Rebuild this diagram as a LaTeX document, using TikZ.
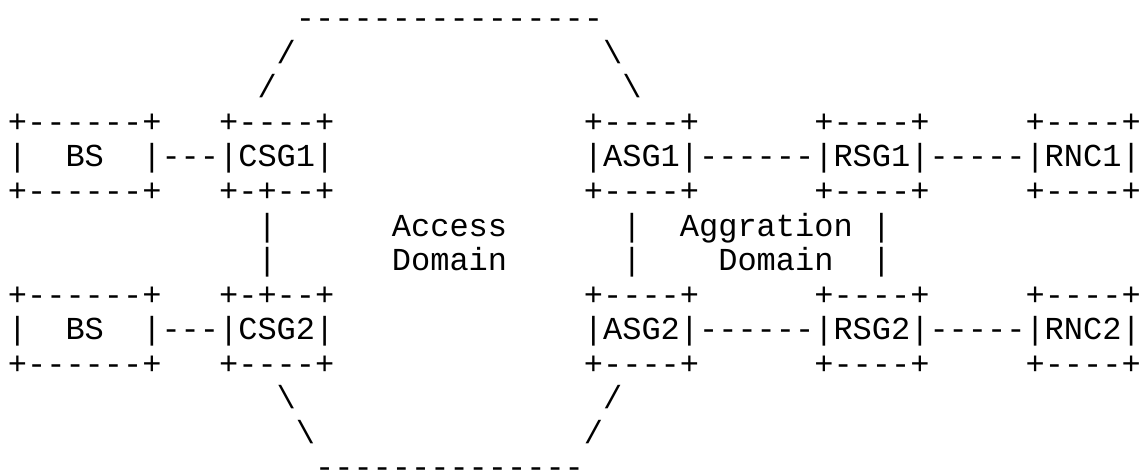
\documentclass[tikz,border=0pt]{standalone}
\usepackage{fontspec}
\setmonofont{Liberation Mono}
\tikzset{asc/.style={anchor=base west, inner sep=0pt, outer sep=0pt,
  font=\ttfamily\fontsize{32}{34.55}\selectfont, text=black}}
\newcommand\ascseg[4]{\node[asc] (#1) at ({7.9+19.2*#2},{28.8+34.55*#3}) {#4};}
\begin{document}
\begin{tikzpicture}[x=1pt,y=-1pt]
\useasboundingbox (0,0) rectangle (1139,470);
\clip (0,0) rectangle (1139,470);
\fill[white] (0,0) rectangle (1139,470);
% row 0
\ascseg{top}{15}{0}{----------------}
% rows 1-2
\ascseg{tl1}{14}{1}{/}
\ascseg{tr1}{31}{1}{\textbackslash}
\ascseg{tl2}{13}{2}{/}
\ascseg{tr2}{32}{2}{\textbackslash}
% row 3
\ascseg{r3a}{0}{3}{+------+~~~+----+}
\ascseg{r3b}{30}{3}{+----+~~~~~~+----+~~~~~+----+}
% row 4
\ascseg{r4a}{0}{4}{|~~BS~~|---|CSG1|}
\ascseg{r4b}{30}{4}{|ASG1|------|RSG1|-----|RNC1|}
% row 5
\ascseg{r5a}{0}{5}{+------+~~~+-+--+}
\ascseg{r5b}{30}{5}{+----+~~~~~~+----+~~~~~+----+}
% row 6
\ascseg{v6a}{13}{6}{|}
\ascseg{acc}{20}{6}{Access}
\ascseg{v6b}{32}{6}{|}
\ascseg{agg}{35}{6}{Aggration}
\ascseg{v6c}{45}{6}{|}
% row 7
\ascseg{v7a}{13}{7}{|}
\ascseg{dom1}{20}{7}{Domain}
\ascseg{v7b}{32}{7}{|}
\ascseg{dom2}{37}{7}{Domain}
\ascseg{v7c}{45}{7}{|}
% row 8
\ascseg{r8a}{0}{8}{+------+~~~+-+--+}
\ascseg{r8b}{30}{8}{+----+~~~~~~+----+~~~~~+----+}
% row 9
\ascseg{r9a}{0}{9}{|~~BS~~|---|CSG2|}
\ascseg{r9b}{30}{9}{|ASG2|------|RSG2|-----|RNC2|}
% row 10
\ascseg{r10a}{0}{10}{+------+~~~+----+}
\ascseg{r10b}{30}{10}{+----+~~~~~~+----+~~~~~+----+}
% rows 11-12
\ascseg{bl1}{14}{11}{\textbackslash}
\ascseg{br1}{31}{11}{/}
\ascseg{bl2}{15}{12}{\textbackslash}
\ascseg{br2}{30}{12}{/}
% row 13
\ascseg{bot}{16}{13}{--------------}
\end{tikzpicture}
\end{document}
